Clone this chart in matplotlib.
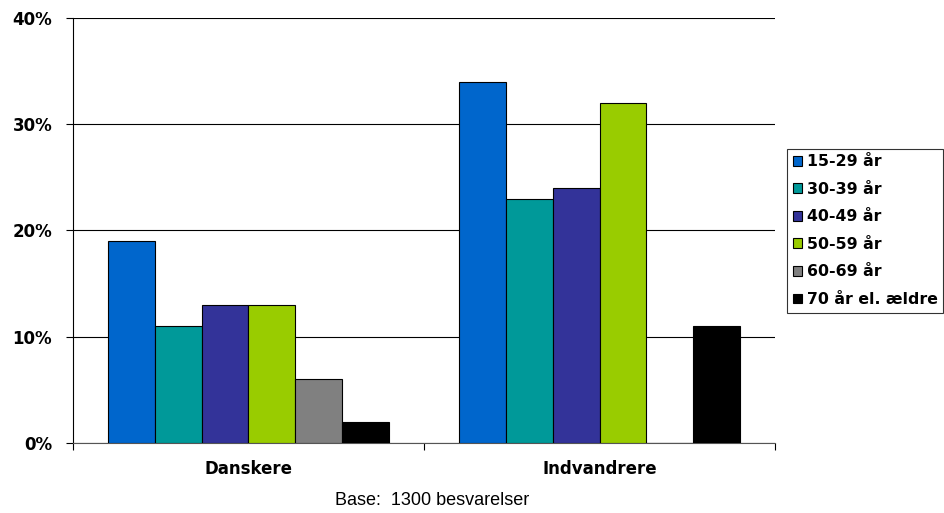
import matplotlib.pyplot as plt
import numpy as np

groups = ['Danskere', 'Indvandrere']
series = ['15-29 år', '30-39 år', '40-49 år', '50-59 år', '60-69 år', '70 år el. ældre']
values = [
    [19, 34],
    [11, 23],
    [13, 24],
    [13, 32],
    [6, 0],
    [2, 11],
]
colors = ['#0066CC', '#009999', '#333399', '#99CC00', '#808080', '#000000']

fig = plt.figure(figsize=(9.44, 5.13), dpi=100)
ax = fig.add_axes([0.0773, 0.1365, 0.7437, 0.8285])

x = np.arange(len(groups))
n = len(series)
width = 0.8 / n
for i, (name, vals, c) in enumerate(zip(series, values, colors)):
    pos = x - 0.4 + width * (i + 0.5)
    ax.bar(pos, vals, width, color=c, edgecolor='black', linewidth=0.8, label=name, zorder=3)

ax.set_xlim(-0.5, 1.5)
ax.set_ylim(0, 40)
ax.set_yticks(range(0, 41, 10))
ax.set_yticklabels([f'{v}%' for v in range(0, 41, 10)], fontweight='bold', fontsize=12)
ax.set_xticks(x)
ax.set_xticklabels(groups, fontweight='bold', fontsize=12)
ax.tick_params(axis='x', length=0, pad=12)
ax.tick_params(axis='y', length=5, width=0.8, pad=10)
ax.set_xticks([-0.5, 0.5, 1.5], minor=True)
ax.tick_params(axis='x', which='minor', length=5, width=0.8)

ax.grid(axis='y', color='black', linewidth=0.8, zorder=0)
ax.set_axisbelow(True)
for s in ['top', 'right']:
    ax.spines[s].set_visible(False)
ax.spines['left'].set_linewidth(0.8)
ax.spines['bottom'].set_linewidth(0.8)
ax.spines['bottom'].set_color('#555555')

leg = fig.legend(loc='upper left', bbox_to_anchor=(0.834, 0.71), frameon=True, fancybox=False,
                 edgecolor='black', prop={'weight': 'bold', 'size': 11.3},
                 handlelength=0.6, handleheight=0.6, handletextpad=0.3, labelspacing=0.8,
                 borderaxespad=0, borderpad=0.35)
leg.get_frame().set_linewidth(0.8)

fig.text(0.458, 0.008, 'Base:  1300 besvarelser', ha='center', va='bottom', fontsize=13,
         family='Liberation Sans')

fig.savefig('out.png', dpi=100)
